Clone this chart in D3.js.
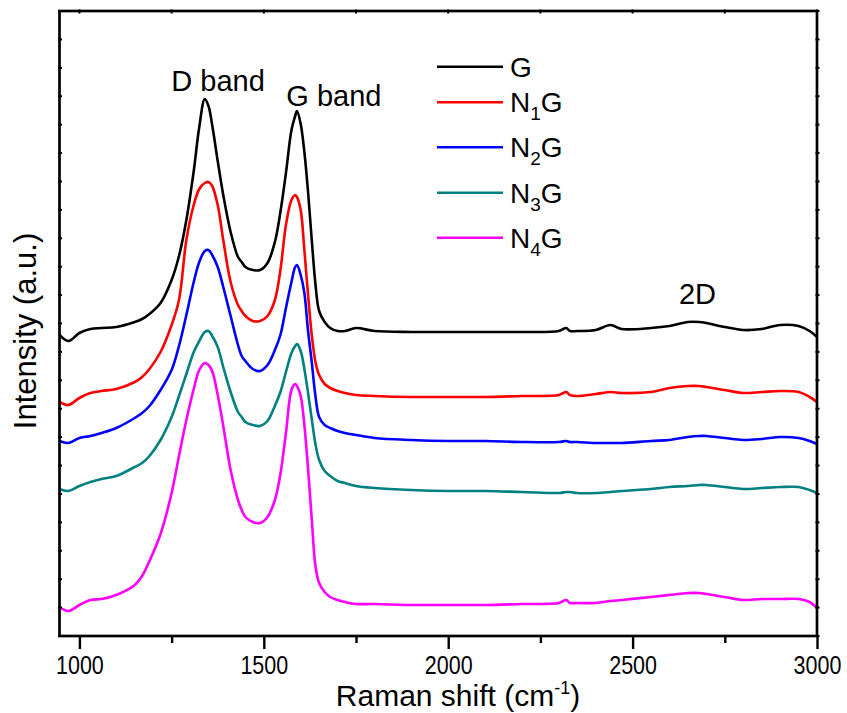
<!DOCTYPE html>
<html>
<head>
<meta charset="utf-8">
<script src="https://cdn.jsdelivr.net/npm/d3@7"></script>
<style>
  html, body { margin: 0; padding: 0; background: #fff; }
  svg { display: block; }
  text { font-family: "Liberation Sans", Arial, sans-serif; fill: #000; }
</style>
</head>
<body>
<svg id="chart" width="847" height="713"></svg>
<script>
// ---------------- data ----------------
const wavenumber = [946,970,1000,1030,1060,1100,1150,1170,1190,1220,1250,1270,1290,1310,1325,1340,1350,1360,1375,1390,1410,1430,1440,1450,1470,1490,1510,1530,1545,1560,1575,1585,1590,1600,1610,1620,1630,1640,1650,1665,1680,1700,1720,1750,1800,1900,2000,2100,2200,2300,2320,2330,2350,2400,2440,2470,2550,2600,2650,2680,2700,2750,2800,2850,2900,2950,2980,3000];

const intensityG   = [301,295,303,307,308,309,314,317,322,333,356,380,416,465,509,537,530,511,475,441,404,379,374,369,366,366,373,394,424,463,506,520,525,512,484,444,396,352,325,314,308,305,305,308,305,304,304,304,304,305,308,305,305,306,311,307,308,310,314,314,313,309,306,307,311,310,305,299];
const intensityN1G = [234,231,238,243,245,247,254,259,267,284,311,336,396,431,447,453,454,450,431,396,354,331,325,320,315,315,320,336,366,411,436,441,439,426,386,341,301,274,261,252,248,245,243,241,240,239,239,239,240,241,244,241,240,242,244,243,244,248,250,250,249,246,243,244,245,244,239,234];
const intensityN2G = [195,193,198,200,203,208,218,223,230,246,266,290,321,354,374,385,386,381,369,349,320,291,280,275,267,265,271,286,301,328,354,369,371,361,343,305,274,240,219,211,208,205,203,201,198,196,195,195,194,194,195,194,194,193,193,193,195,196,199,200,200,198,196,197,199,198,195,192];
const intensityN3G = [147,145,150,154,157,160,169,173,180,196,219,240,262,284,295,304,305,300,289,269,244,224,219,214,211,210,215,230,244,264,283,290,292,285,267,243,217,192,176,165,160,155,153,150,148,146,145,145,144,143,144,144,143,143,144,145,147,149,150,151,151,149,147,148,149,149,146,143];
const intensityN4G = [29,25,31,36,37,41,51,60,75,102,143,180,216,247,266,273,271,265,241,210,166,136,126,119,114,113,119,136,162,203,246,252,250,240,211,167,117,70,53,44,39,36,34,32,32,31,31,31,32,33,36,33,33,33,35,36,39,41,43,43,42,39,36,37,37,37,34,28];

const seriesNames  = ["G", "N1G", "N2G", "N3G", "N4G"];
const seriesColors = ["#000000", "#ff0000", "#0000ff", "#008080", "#ff00ff"];
const seriesValues = [intensityG, intensityN1G, intensityN2G, intensityN3G, intensityN4G];
const legendParts  = [["G", "", ""], ["N", "1", "G"], ["N", "2", "G"], ["N", "3", "G"], ["N", "4", "G"]];

const xMajorTicks = [1000, 1500, 2000, 2500, 3000];
const xMinorTicks = [1250, 1750, 2250, 2750];
const xDomain = [946, 3000];
const yDomain = [0, 625];
const yTickCount = 22;

const annotations = [
  { text: "D band", x: 1376, y: 545 },
  { text: "G band", x: 1690, y: 530 },
  { text: "2D",     x: 2676, y: 332 }
];

// ---------------- layout ----------------
const plot = { left: 59.5, right: 817, top: 11, bottom: 636 };
const svg = d3.select("#chart");

const x = d3.scaleLinear().domain(xDomain).range([plot.left, plot.right]);
const y = d3.scaleLinear().domain(yDomain).range([plot.bottom, plot.top]);

// clip
svg.append("defs").append("clipPath").attr("id", "clip")
  .append("rect")
  .attr("x", plot.left).attr("y", plot.top)
  .attr("width", plot.right - plot.left).attr("height", plot.bottom - plot.top);

// lines
const line = d3.line()
  .x((d, i) => x(wavenumber[i]))
  .y(d => y(d))
  .curve(d3.curveCatmullRom.alpha(0.5));

const gLines = svg.append("g").attr("clip-path", "url(#clip)");
seriesValues.forEach((vals, k) => {
  gLines.append("path")
    .datum(vals)
    .attr("d", line)
    .attr("fill", "none")
    .attr("stroke", seriesColors[k])
    .attr("stroke-width", 2.6)
    .attr("stroke-linejoin", "round");
});

// bottom axis, major ticks with labels
const axBottom = svg.append("g")
  .attr("transform", `translate(0,${plot.bottom})`)
  .call(d3.axisBottom(x).tickValues(xMajorTicks).tickSize(13).tickPadding(7).tickFormat(d3.format("d")));
axBottom.select(".domain").remove();
axBottom.selectAll(".tick line").attr("stroke", "#000").attr("stroke-width", 2.4);
axBottom.selectAll(".tick text")
  .attr("font-size", 25)
  .attr("font-family", "Liberation Sans, Arial, sans-serif")
  .attr("transform", "scale(0.86,1)");

// bottom minor ticks
const axBottomMinor = svg.append("g")
  .attr("transform", `translate(0,${plot.bottom})`)
  .call(d3.axisBottom(x).tickValues(xMinorTicks).tickSize(7).tickFormat(""));
axBottomMinor.select(".domain").remove();
axBottomMinor.selectAll(".tick line").attr("stroke", "#000").attr("stroke-width", 2.4);

// top axis: tiny ticks
const topTicks = xMajorTicks.concat(xMinorTicks);
svg.append("g").selectAll("line").data(topTicks).join("line")
  .attr("x1", d => x(d)).attr("x2", d => x(d))
  .attr("y1", plot.top - 1.5).attr("y2", plot.top + 2.5)
  .attr("stroke", "#000").attr("stroke-width", 2);

// left/right axes: tiny ticks
const yTicks = d3.range(0, yTickCount + 1).map(i => yDomain[0] + (yDomain[1] - yDomain[0]) * i / yTickCount);
const gy = svg.append("g");
gy.selectAll("line.l").data(yTicks).join("line").attr("class", "l")
  .attr("x1", plot.left - 1.5).attr("x2", plot.left + 2.5)
  .attr("y1", d => y(d)).attr("y2", d => y(d))
  .attr("stroke", "#000").attr("stroke-width", 2);
gy.selectAll("line.r").data(yTicks).join("line").attr("class", "r")
  .attr("x1", plot.right - 1.5).attr("x2", plot.right + 2.5)
  .attr("y1", d => y(d)).attr("y2", d => y(d))
  .attr("stroke", "#000").attr("stroke-width", 2);

// frame
svg.append("rect")
  .attr("x", plot.left).attr("y", plot.top)
  .attr("width", plot.right - plot.left).attr("height", plot.bottom - plot.top)
  .attr("fill", "none").attr("stroke", "#000").attr("stroke-width", 2.7);

// x axis title
const xt = svg.append("text")
  .attr("x", 458).attr("y", 706)
  .attr("text-anchor", "middle")
  .attr("font-size", 30);
xt.append("tspan").text("Raman shift (cm");
xt.append("tspan").attr("font-size", 18).attr("dy", -12).text("-1");
xt.append("tspan").attr("dy", 12).text(")");

// y axis title
svg.append("text")
  .attr("transform", "translate(36,331) rotate(-90)")
  .attr("text-anchor", "middle")
  .attr("font-size", 31)
  .text("Intensity (a.u.)");

// annotations
svg.append("g").selectAll("text").data(annotations).join("text")
  .attr("x", d => x(d.x)).attr("y", d => y(d.y))
  .attr("text-anchor", "middle")
  .attr("font-size", 29)
  .text(d => d.text);

// legend
const legendY = [66.7, 102.3, 147.3, 192.7, 237.7];
const lg = svg.append("g");
seriesNames.forEach((name, k) => {
  const ly = legendY[k];
  lg.append("line")
    .attr("x1", 437).attr("x2", 503)
    .attr("y1", ly).attr("y2", ly)
    .attr("stroke", seriesColors[k]).attr("stroke-width", 2.6);
  const t = lg.append("text").attr("x", 510).attr("y", ly + 10).attr("font-size", 28);
  const p = legendParts[k];
  t.append("tspan").text(p[0]);
  if (p[1]) {
    t.append("tspan").attr("font-size", 19).attr("dy", 8).text(p[1]);
    t.append("tspan").attr("dy", -8).text(p[2]);
  }
});
</script>
</body>
</html>
